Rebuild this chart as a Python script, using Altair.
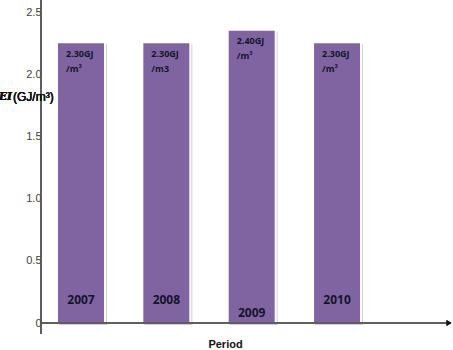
import altair as alt
import pandas as pd

# Data
years = [2007, 2008, 2009, 2010]
bar_heights = [2.26, 2.26, 2.36, 2.26]
value_labels = ["2.30GJ", "2.30GJ", "2.40GJ", "2.30GJ"]
unit_labels = ["/m\u00b3", "/m3", "/m\u00b3", "/m\u00b3"]
year_label_levels = [0.185, 0.185, 0.083, 0.185]
y_ticks = [0, 0.5, 1.0, 1.5, 2.0, 2.5]

df = pd.DataFrame({
    "year": years,
    "height": bar_heights,
    "vlabel": value_labels,
    "ulabel": unit_labels,
    "ylab": year_label_levels,
})

PURPLE = "#8064A2"
TXT = "#14142a"

xscale = alt.Scale(domain=[2006.59, 2011.30], nice=False, zero=False)
yscale = alt.Scale(domain=[0, 2.6], nice=False)

x_enc = alt.X("year:Q", scale=xscale,
              axis=alt.Axis(title="Period", labels=False, ticks=False, domain=False,
                            grid=False, titleFont="Liberation Sans", titleFontSize=11,
                            titleFontWeight="bold", titleColor="#111111",
                            titleX=184, titleY=21, titleBaseline="middle",
                            titleAlign="center"))
y_enc = alt.Y("height:Q", scale=yscale,
              axis=alt.Axis(title=None, values=y_ticks, grid=False, domain=False,
                            ticks=False, labelPadding=0, labelFontSize=11,
                            labelFont="Liberation Sans", labelColor="#404040",
                            labelExpr="datum.value == 0 ? '0' : format(datum.value, '.1f')"))

base = alt.Chart(df)

shadow = base.mark_bar(size=48, color="#cfcfcf", xOffset=2, yOffset=2).encode(
    x=x_enc, y=y_enc)

bars = base.mark_bar(size=48, color=PURPLE, stroke="white", strokeWidth=2).encode(
    x="year:Q", y="height:Q")

vtext = base.mark_text(align="left", baseline="middle", dx=-15, dy=11.5,
                       font="Open Sans", fontWeight="bold", fontSize=9,
                       color=TXT).encode(x="year:Q", y="height:Q", text="vlabel:N")
utext = base.mark_text(align="left", baseline="middle", dx=-15, dy=26.5,
                       font="Open Sans", fontWeight="bold", fontSize=9,
                       color=TXT).encode(x="year:Q", y="height:Q", text="ulabel:N")
ytext = base.mark_text(align="center", baseline="middle", font="Open Sans",
                       fontWeight="bold", fontSize=12, color=TXT).encode(
    x="year:Q", y=alt.Y("ylab:Q"), text="year:N")

# axis lines with arrow
yline = alt.Chart(df).mark_rule(color="#555555", strokeWidth=1).encode(
    x=alt.value(0), y=alt.value(0), y2=alt.value(334))
xline = alt.Chart(df).mark_rule(color="#555555", strokeWidth=1).encode(
    x=alt.value(0), x2=alt.value(407), y=alt.value(323))
arrow = alt.Chart(df).mark_point(shape="triangle-right", filled=True, size=28,
                                 color="#111111", opacity=1).encode(
    x=alt.value(408), y=alt.value(323))

title_ei = alt.Chart(df).mark_text(align="right", baseline="middle", font="DejaVu Serif",
                                   fontStyle="italic", fontWeight="bold", fontSize=10.5,
                                   color="#111111").encode(
    x=alt.value(-29), y=alt.value(97), text=alt.value("EI"))
title_unit = alt.Chart(df).mark_text(align="left", baseline="middle", font="Liberation Sans",
                                     fontSize=12, color="#111111").encode(
    x=alt.value(-28), y=alt.value(97), text=alt.value("(GJ/m\u00b3)"))

chart = alt.layer(shadow, bars, vtext, utext, ytext, yline, xline, arrow,
                  title_ei, title_unit).properties(
    width=412, height=323,
    autosize=alt.AutoSizeParams(type="none"),
    padding={"left": 41, "top": 0, "right": 0, "bottom": 27},
    background="white",
).configure_view(stroke=None)

chart.save("out.html", embed_options={"renderer": "svg", "actions": False})
